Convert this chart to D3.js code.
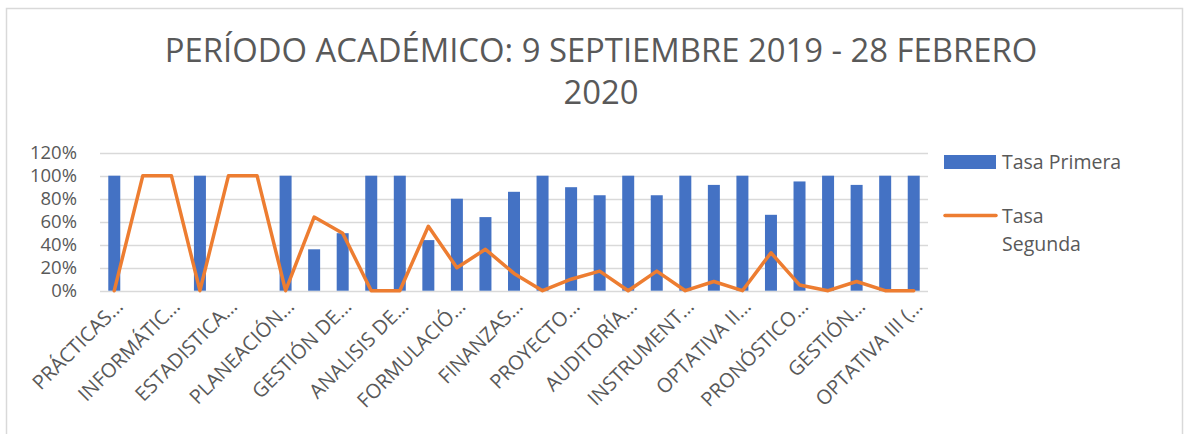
<!DOCTYPE html>
<html>
<head>
<meta charset="utf-8">
<script src="https://cdn.jsdelivr.net/npm/d3@7.9.0/dist/d3.min.js"></script>
<style>
  body { margin: 0; background: #fff; }
  svg { display: block; font-family: 'Open Sans', sans-serif; }
</style>
</head>
<body>
<svg id="chart" width="1184" height="434"></svg>
<script>
const TITLE_LINES = ['PERÍODO ACADÉMICO: 9 SEPTIEMBRE 2019 - 28 FEBRERO', '2020'];

// one label shown for every second category (Excel skips the rest)
const tickLabels = [
  'PRÁCTICAS…', 'INFORMÁTIC…', 'ESTADISTICA…', 'PLANEACIÓN…', 'GESTIÓN DE…',
  'ANALISIS DE…', 'FORMULACIÓ…', 'FINANZAS…', 'PROYECTO…', 'AUDITORÍA…',
  'INSTRUMENT…', 'OPTATIVA II…', 'PRONÓSTICO…', 'GESTIÓN…', 'OPTATIVA III (…',
];

const tasaPrimera = [
  100, 0, 0, 100, 0, 0, 100, 36, 50, 100,
  100, 44, 80, 64, 86, 100, 90, 83, 100, 83,
  100, 92, 100, 66, 95, 100, 92, 100, 100,
];

const tasaSegunda = [
  0, 100, 100, 0, 100, 100, 0, 64, 50, 0,
  0, 56, 20, 36, 15, 0, 10, 17, 0, 17,
  0, 8, 0, 33, 5, 0, 8, 0, 0,
];

const yTicks = [0, 20, 40, 60, 80, 100, 120];

const seriesNames = ['Tasa Primera', 'Tasa Segunda'];
const BLUE = '#4472c4';
const ORANGE = '#ed7d31';
const TEXT = '#595959';

const svg = d3.select('#chart');

// chart area border
svg.append('rect')
  .attr('x', 6.5).attr('y', 8.5)
  .attr('width', 1176).attr('height', 440)
  .attr('fill', 'none')
  .attr('stroke', '#d9d9d9')
  .attr('stroke-width', 1.5);

// title
svg.append('g')
  .selectAll('text')
  .data(TITLE_LINES)
  .join('text')
  .attr('x', 601)
  .attr('y', (d, i) => 62 + i * 42)
  .attr('text-anchor', 'middle')
  .attr('fill', TEXT)
  .style('font-size', '32.8px')
  .text((d) => d);

const plot = { left: 100, right: 928, top: 152.7, bottom: 290.7 };

const x = d3.scaleBand()
  .domain(d3.range(tasaPrimera.length))
  .range([plot.left, plot.right]);

const y = d3.scaleLinear()
  .domain([0, 120])
  .range([plot.bottom, plot.top]);

const center = (i) => x(i) + x.bandwidth() / 2;
const barWidth = x.bandwidth() * 0.42;

// gridlines
svg.append('g')
  .selectAll('line')
  .data(yTicks)
  .join('line')
  .attr('x1', plot.left).attr('x2', plot.right)
  .attr('y1', (d) => Math.round(y(d)) + 0.5)
  .attr('y2', (d) => Math.round(y(d)) + 0.5)
  .attr('stroke', '#d9d9d9')
  .attr('stroke-width', 1.3);

// y axis labels
svg.append('g')
  .selectAll('text')
  .data(yTicks)
  .join('text')
  .attr('x', 77)
  .attr('y', (d) => y(d))
  .attr('dy', '0.36em')
  .attr('text-anchor', 'end')
  .attr('fill', TEXT)
  .style('font-size', '18.5px')
  .text((d) => `${d}%`);

// bars
svg.append('g')
  .selectAll('rect')
  .data(tasaPrimera)
  .join('rect')
  .attr('x', (d, i) => center(i) - barWidth / 2)
  .attr('y', (d) => y(d))
  .attr('width', barWidth)
  .attr('height', (d) => y(0) - y(d))
  .attr('fill', BLUE);

// line
const line = d3.line()
  .x((d, i) => center(i))
  .y((d) => y(d));

svg.append('path')
  .datum(tasaSegunda)
  .attr('d', line)
  .attr('fill', 'none')
  .attr('stroke', ORANGE)
  .attr('stroke-width', 3.5)
  .attr('stroke-linejoin', 'round')
  .attr('stroke-linecap', 'round');

// x labels, every second category, rotated
svg.append('g')
  .selectAll('text')
  .data(tickLabels)
  .join('text')
  .attr('transform', (d, i) => `translate(${center(i * 2) + 5},${plot.bottom + 12}) rotate(-45)`)
  .attr('text-anchor', 'end')
  .attr('dy', '0.35em')
  .attr('fill', TEXT)
  .style('font-size', '20px')
  .text((d) => d);

// legend
const legend = svg.append('g');

legend.append('rect')
  .attr('x', 944).attr('y', 155)
  .attr('width', 52).attr('height', 14)
  .attr('fill', BLUE);

legend.append('text')
  .attr('x', 1002).attr('y', 169)
  .attr('fill', TEXT)
  .style('font-size', '19.5px')
  .text(seriesNames[0]);

legend.append('line')
  .attr('x1', 945).attr('x2', 996)
  .attr('y1', 215.5).attr('y2', 215.5)
  .attr('stroke', ORANGE)
  .attr('stroke-width', 3.5)
  .attr('stroke-linecap', 'round');

legend.append('text')
  .attr('x', 1002).attr('y', 223)
  .attr('fill', TEXT)
  .style('font-size', '19.5px')
  .selectAll('tspan')
  .data(seriesNames[1].split(' '))
  .join('tspan')
  .attr('x', 1002)
  .attr('dy', (d, i) => (i === 0 ? 0 : 28))
  .text((d) => d);
</script>
</body>
</html>
